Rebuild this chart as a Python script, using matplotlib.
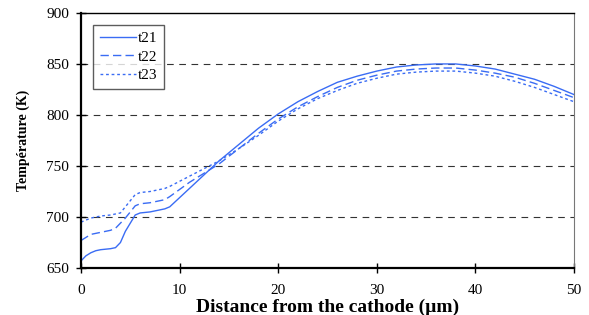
import matplotlib
matplotlib.use("Agg")
import matplotlib.pyplot as plt
import numpy as np

plt.rcParams['font.family'] = ['Liberation Serif', 'DejaVu Serif']

# distance from the cathode (um)
dist = [0, 0.5, 1, 1.5, 2, 3, 3.5, 4, 4.5, 5, 5.5, 6, 7, 8, 8.5, 9,
        10, 11, 12, 13, 14, 16, 18, 20, 22, 24, 26, 28, 30, 32, 34,
        36, 38, 40, 42, 44, 46, 48, 50]

t21 = [657, 662, 665, 667, 668, 669, 670, 675, 686, 694, 702, 704, 705, 707, 708, 710,
       719, 728, 737, 746, 755, 771, 787, 801, 813, 823, 832, 838, 843, 847, 849,
       850, 850, 848, 845, 840, 835, 828, 820]
t22 = [677, 680, 683, 684, 685, 687, 689, 694, 699, 705, 711, 713, 714, 716, 717, 720,
       727, 734, 740, 746, 752, 767, 782, 796, 808, 818, 827, 834, 839, 843, 845,
       846, 846, 844, 841, 837, 831, 824, 817]
t23 = [695, 697, 699, 700, 701, 702, 703, 704, 710, 716, 722, 724, 725, 727, 728, 730,
       735, 740, 745, 750, 755, 767, 780, 794, 806, 816, 824, 831, 836, 840, 842,
       843, 843, 841, 838, 833, 827, 820, 813]

color = '#3a6cf4'

fig = plt.figure(figsize=(5.89, 3.15), dpi=100)
ax = fig.add_axes([0.1375, 0.149, 0.837, 0.81])

ax.plot(dist, t21, color=color, lw=1.0, ls='-', label='t21')
ax.plot(dist, t22, color=color, lw=1.0, ls=(0, (6, 3)), label='t22')
ax.plot(dist, t23, color=color, lw=1.0, ls=(0, (2, 2)), label='t23')

ax.set_xlim(0, 50)
ax.set_ylim(650, 900)
ax.set_xticks([0, 10, 20, 30, 40, 50])
ax.set_yticks([650, 700, 750, 800, 850, 900])
for yv in [700, 750, 800, 850]:
    ax.axhline(yv, color='#333333', lw=0.8, ls=(0, (6, 5)), zorder=0)

ax.spines['left'].set_linewidth(1.6)
ax.spines['bottom'].set_linewidth(1.6)
ax.spines['top'].set_linewidth(1.0)
ax.spines['right'].set_linewidth(0.8)
ax.spines['right'].set_color('#777777')

ax.tick_params(axis='both', direction='inout', length=7, width=1, labelsize=11)
ax.tick_params(axis='x', pad=8)
ax.tick_params(axis='y', pad=5)

ax.set_xlabel('Distance from the cathode (\u00b5m)', fontsize=14, fontweight='bold', labelpad=1)
ax.set_ylabel('Température (K)', fontsize=10, fontweight='bold', labelpad=12)

leg = ax.legend(loc='upper left', bbox_to_anchor=(0.024, 0.953), fontsize=11,
                frameon=True, fancybox=False, edgecolor='#333333',
                handlelength=2.4, handletextpad=0.1, borderpad=0.45,
                labelspacing=0.3, borderaxespad=0)
leg.get_frame().set_linewidth(1.0)

fig.savefig('out.png', dpi=100)
